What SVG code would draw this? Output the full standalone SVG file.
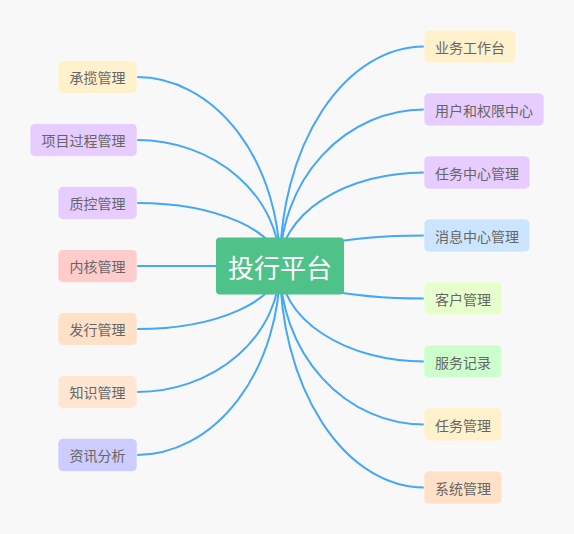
<svg xmlns="http://www.w3.org/2000/svg" width="574" height="534" viewBox="0 0 574 534">
<style>
.bg{fill:#f8f8f8}
.c{fill:none;stroke:#45a7f7;stroke-width:2}
.n{stroke:#ffffff;stroke-opacity:0.5;stroke-width:1}
.t{font-family:"Noto Sans CJK SC","Liberation Sans",sans-serif;font-size:14px;fill:#666666;text-anchor:middle;dominant-baseline:central}
.root rect{fill:#4fc28a}
.root text{font-family:"Noto Sans CJK SC","Liberation Sans",sans-serif;font-size:26px;fill:#ffffff;text-anchor:middle;dominant-baseline:central}
</style>
<rect class="bg" x="0" y="0" width="574" height="534"/>
<g id="connectors">
<path class="c" d="M280 266 A143 189 0 0 0 137 77"/>
<path class="c" d="M280 266 A143 126 0 0 0 137 140"/>
<path class="c" d="M280 266 A143 63 0 0 0 137 203"/>
<path class="c" d="M280 266 L137 266"/>
<path class="c" d="M280 266 A143 63 0 0 1 137 329"/>
<path class="c" d="M280 266 A143 126 0 0 1 137 392"/>
<path class="c" d="M280 266 A143 189 0 0 1 137 455"/>
<path class="c" d="M280 266 A144 219.5 0 0 1 424 46.5"/>
<path class="c" d="M280 266 A144 156.5 0 0 1 424 109.5"/>
<path class="c" d="M280 266 A144 93.5 0 0 1 424 172.5"/>
<path class="c" d="M280 266 A144 30.5 0 0 1 424 235.5"/>
<path class="c" d="M280 266 A144 32.5 0 0 0 424 298.5"/>
<path class="c" d="M280 266 A144 95.5 0 0 0 424 361.5"/>
<path class="c" d="M280 266 A144 158.5 0 0 0 424 424.5"/>
<path class="c" d="M280 266 A144 221.5 0 0 0 424 487.5"/>
</g>
<g id="root" class="root"><rect x="216" y="237.5" width="128" height="57" rx="4"/><text x="280" y="266">投行平台</text></g>
<g id="n-chenglan"><rect class="n" x="58" y="60.5" width="79" height="33" rx="5" fill="#fff1cc"/><text class="t" x="97.5" y="77">承揽管理</text></g>
<g id="n-xiangmu"><rect class="n" x="30" y="123.5" width="107" height="33" rx="5" fill="#e6ccff"/><text class="t" x="83.5" y="140">项目过程管理</text></g>
<g id="n-zhikong"><rect class="n" x="58" y="186.5" width="79" height="33" rx="5" fill="#e6ccff"/><text class="t" x="97.5" y="203">质控管理</text></g>
<g id="n-neihe"><rect class="n" x="58" y="249.5" width="79" height="33" rx="5" fill="#ffcccc"/><text class="t" x="97.5" y="266">内核管理</text></g>
<g id="n-faxing"><rect class="n" x="58" y="312.5" width="79" height="33" rx="5" fill="#ffe1c8"/><text class="t" x="97.5" y="329">发行管理</text></g>
<g id="n-zhishi"><rect class="n" x="58" y="375.5" width="79" height="33" rx="5" fill="#ffe6d2"/><text class="t" x="97.5" y="392">知识管理</text></g>
<g id="n-zixun"><rect class="n" x="58" y="438.5" width="79" height="33" rx="5" fill="#ccccff"/><text class="t" x="97.5" y="455">资讯分析</text></g>
<g id="n-yewu"><rect class="n" x="424" y="30" width="92" height="33" rx="5" fill="#fff1cc"/><text class="t" x="470" y="46.5">业务工作台</text></g>
<g id="n-yonghu"><rect class="n" x="424" y="93" width="120" height="33" rx="5" fill="#e6ccff"/><text class="t" x="484" y="109.5">用户和权限中心</text></g>
<g id="n-renwuzhongxin"><rect class="n" x="424" y="156" width="106" height="33" rx="5" fill="#e6ccff"/><text class="t" x="477" y="172.5">任务中心管理</text></g>
<g id="n-xiaoxi"><rect class="n" x="424" y="219" width="106" height="33" rx="5" fill="#cce5ff"/><text class="t" x="477" y="235.5">消息中心管理</text></g>
<g id="n-kehu"><rect class="n" x="424" y="282" width="78" height="33" rx="5" fill="#e6ffcc"/><text class="t" x="463" y="298.5">客户管理</text></g>
<g id="n-fuwu"><rect class="n" x="424" y="345" width="78" height="33" rx="5" fill="#ccffcc"/><text class="t" x="463" y="361.5">服务记录</text></g>
<g id="n-renwu"><rect class="n" x="424" y="408" width="78" height="33" rx="5" fill="#fff1cc"/><text class="t" x="463" y="424.5">任务管理</text></g>
<g id="n-xitong"><rect class="n" x="424" y="471" width="78" height="33" rx="5" fill="#ffe1c8"/><text class="t" x="463" y="487.5">系统管理</text></g>
</svg>
